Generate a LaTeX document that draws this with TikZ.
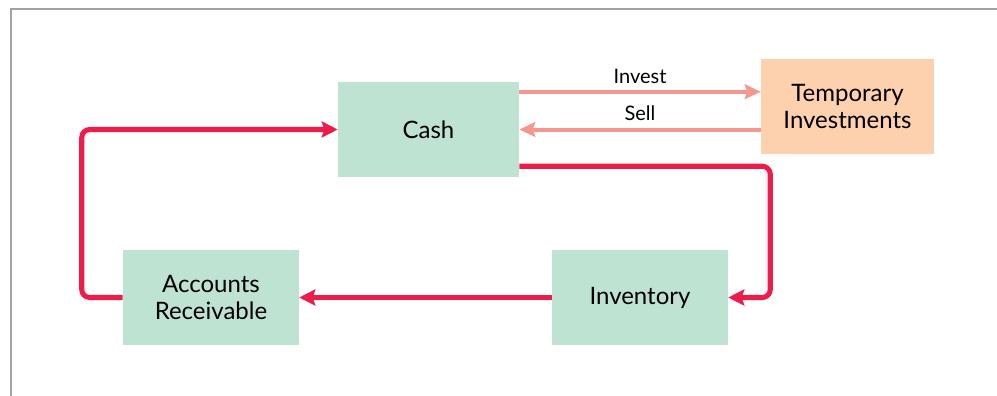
\documentclass[tikz,border=0pt]{standalone}
\usepackage{fontspec}
\setmainfont{Lato}
\usepackage{xcolor}
\definecolor{boxgreen}{HTML}{BFE3D3}
\definecolor{boxorange}{HTML}{FDD0AE}
\definecolor{salmon}{HTML}{F4978E}
\definecolor{cyclered}{HTML}{ED1C4B}
\definecolor{framegray}{HTML}{A2A2A8}
\usepackage{tikz}
\usetikzlibrary{arrows.meta, positioning, calc}

\tikzset{
  account/.style={fill=boxgreen, minimum width=132pt, minimum height=71.25pt,
    inner sep=0pt, align=center, font=\fontsize{18}{20.5}\selectfont},
  tradeflow/.style={salmon, line width=3pt, -{Stealth[length=12pt, width=11pt, inset=2pt]}},
  cycleflow/.style={cyclered, line width=3.8pt, rounded corners=6pt,
    -{Stealth[length=12pt, width=12pt, inset=2pt]}},
  flowlabel/.style={font=\fontsize{15}{17}\selectfont}
}

\begin{document}
\begin{tikzpicture}[x=0.75pt, y=-0.75pt]
  \useasboundingbox (0,0) rectangle (997,396);
  % rahmen
  \draw[framegray, line width=1.5pt] (11,396) -- (11,9) -- (997,9);
  % konten
  \node[account, minimum width=135.75pt] (cash) at (428.5,129.5) {Cash};
  \node[account, fill=boxorange, minimum width=129.75pt] (temp) at (847.5,106.5) {Temporary\\Investments};
  \node[account] (inv) at (640,297.5) {Inventory};
  \node[account] (ar) at (211,297.5) {Accounts\\Receivable};
  % anlage und verkauf
  \draw[tradeflow] ([yshift=-7.5pt]cash.north east) -- ([yshift=-7.5pt]cash.north east -| temp.west)
    node[midway, above=1.5pt, flowlabel, text=black] {Invest};
  \draw[tradeflow] (temp.west |- cash.east) -- (cash.east)
    node[midway, above=1.5pt, flowlabel, text=black] {Sell};
  % kreislauf
  \draw[cycleflow] ([yshift=8.25pt]cash.south east) -| ($(inv.east)+(42,0)$) -- (inv.east);
  \draw[cycleflow] (inv.west) -- (ar.east);
  \draw[cycleflow] (ar.west) -- ++(-41,0) |- (cash.west);
\end{tikzpicture}
\end{document}
